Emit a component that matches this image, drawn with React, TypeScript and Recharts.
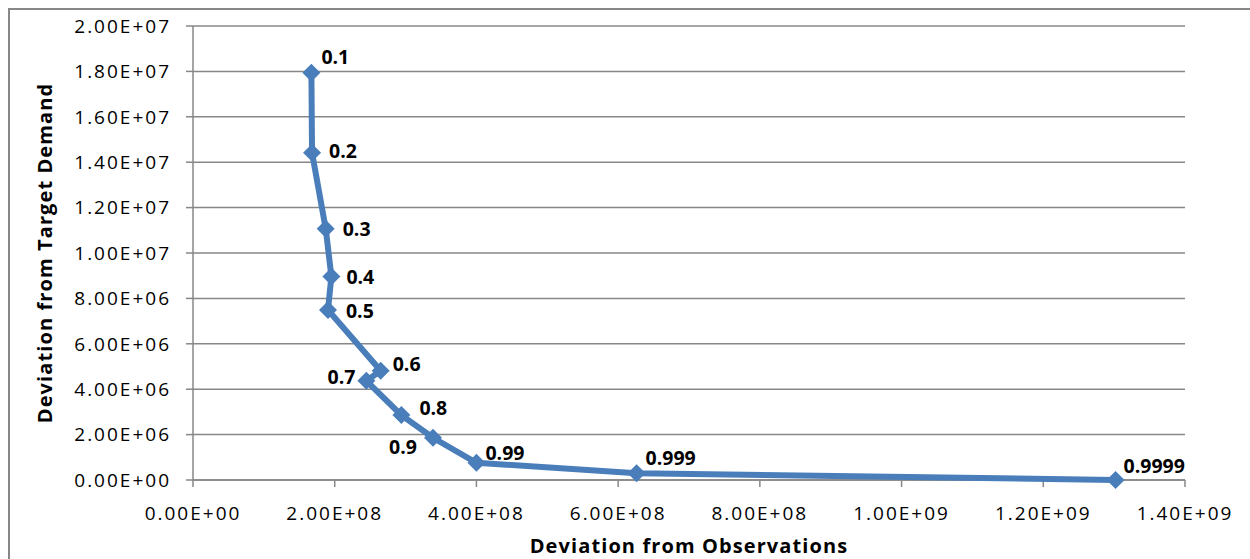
import React from 'react';
import { ScatterChart, Scatter, XAxis, YAxis, CartesianGrid, LabelList } from 'recharts';

// weighting levels shown next to each point
const levels = ['0.1', '0.2', '0.3', '0.4', '0.5', '0.6', '0.7', '0.8', '0.9', '0.99', '0.999', '0.9999'];
// deviation from observations (x)
const obsDeviation = [1.671e8, 1.68e8, 1.873e8, 1.953e8, 1.905e8, 2.649e8, 2.447e8, 2.941e8, 3.387e8, 4.0e8, 6.26e8, 1.302e9];
// deviation from target demand (y)
const demandDeviation = [1.794e7, 1.442e7, 1.107e7, 8.96e6, 7.49e6, 4.81e6, 4.37e6, 2.86e6, 1.86e6, 7.6e5, 3.0e5, 0];

const xTicks = [0, 2e8, 4e8, 6e8, 8e8, 1e9, 1.2e9, 1.4e9];
const yTicks = [0, 2e6, 4e6, 6e6, 8e6, 1e7, 1.2e7, 1.4e7, 1.6e7, 1.8e7, 2e7];

// label placement: [dx, dy, anchor]
const labelPlacement: Record<string, [number, number, 'start' | 'end']> = {
  '0.1': [10, -16, 'start'],
  '0.2': [17, -2, 'start'],
  '0.3': [17, 0, 'start'],
  '0.4': [15, 0, 'start'],
  '0.5': [18, 1, 'start'],
  '0.6': [12, -7, 'start'],
  '0.7': [-11, -4, 'end'],
  '0.8': [18, -8, 'start'],
  '0.9': [-16, 9, 'end'],
  '0.99': [9, -10, 'start'],
  '0.999': [9, -16, 'start'],
  '0.9999': [8, -15, 'start'],
};

const data = levels.map((level, i) => ({ level, x: obsDeviation[i], y: demandDeviation[i] }));

const BLUE = '#4a7ebb';
const GRAY = '#878787';
const FONT = '"Open Sans", sans-serif';

const sci = (v: number) => {
  const [m, e] = v.toExponential(2).split('e');
  const sign = e[0] === '-' ? '-' : '+';
  const digits = e.replace(/[+-]/, '').padStart(2, '0');
  return `${m}E${sign}${digits}`;
};

const Diamond = (props: any) => {
  const { cx, cy } = props;
  if (cx == null || cy == null) return null;
  const r = 9;
  return <path d={`M${cx},${cy - r}L${cx + r},${cy}L${cx},${cy + r}L${cx - r},${cy}Z`} fill={BLUE} />;
};

const PointLabel = (props: any) => {
  const { x, y, width, height, value } = props;
  const cx = x + (width || 0) / 2;
  const cy = y + (height || 0) / 2;
  const [dx, dy, anchor] = labelPlacement[value] || [10, -10, 'start'];
  return (
    <text
      x={cx + dx}
      y={cy + dy}
      textAnchor={anchor}
      dominantBaseline="central"
      fontFamily={FONT}
      fontWeight={700}
      fontSize={19.5}
      fill="#000"
    >
      {value}
    </text>
  );
};

const tickStyle = { fontSize: 19, fill: '#000', fontFamily: FONT, letterSpacing: 2 };
const titleStyle = { fontFamily: FONT, fontWeight: 700, fontSize: 20, fill: '#000', letterSpacing: 1.1 };

export default function App() {
  return (
    <div style={{ position: 'fixed', left: 0, top: 0, width: 1250, height: 559, overflow: 'hidden', background: '#fff' }}>
      <div
        style={{
          position: 'absolute',
          left: 8,
          top: 8,
          width: 1260,
          height: 570,
          border: `2px solid ${GRAY}`,
          boxSizing: 'border-box',
        }}
      >
        <ScatterChart width={1234} height={549} margin={{ top: 16, right: 59, bottom: 0, left: 0 }}>
          <CartesianGrid vertical={false} stroke={GRAY} strokeWidth={1.5} />
          <XAxis
            type="number"
            dataKey="x"
            domain={[0, 1.4e9]}
            ticks={xTicks}
            tickFormatter={sci}
            height={79}
            tickSize={7}
            tickMargin={20}
            tick={tickStyle}
            stroke={GRAY}
            strokeWidth={1.5}
            label={{
              value: 'Deviation from Observations',
              position: 'insideBottom',
              offset: 6,
              style: titleStyle,
            }}
          />
          <YAxis
            type="number"
            dataKey="y"
            domain={[0, 2e7]}
            ticks={yTicks}
            tickFormatter={sci}
            width={183}
            tickSize={7}
            tickMargin={15}
            tick={tickStyle}
            stroke={GRAY}
            strokeWidth={1.5}
            label={{
              value: 'Deviation from Target Demand',
              angle: -90,
              position: 'insideLeft',
              offset: 35,
              style: { ...titleStyle, textAnchor: 'middle' },
            }}
          />
          <Scatter
            data={data}
            line={{ stroke: BLUE, strokeWidth: 6 }}
            shape={<Diamond />}
            fill={BLUE}
            isAnimationActive={false}
          >
            <LabelList dataKey="level" content={<PointLabel />} />
          </Scatter>
        </ScatterChart>
      </div>
    </div>
  );
}
